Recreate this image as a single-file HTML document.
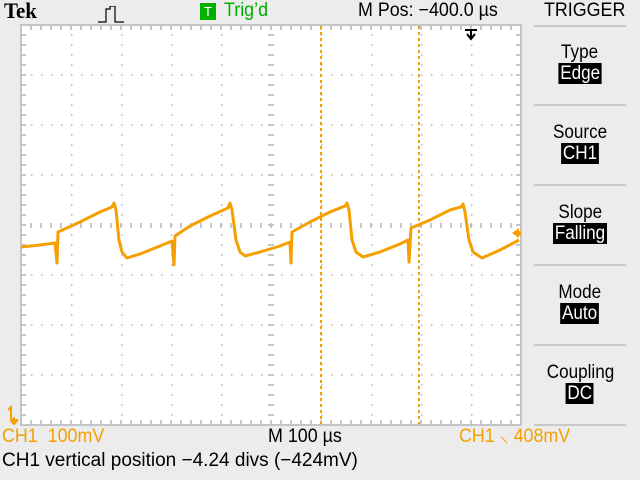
<!DOCTYPE html>
<html><head><meta charset="utf-8"><style>
html,body{margin:0;padding:0;background:#ececec;}
body{width:640px;height:480px;overflow:hidden;position:relative;font-family:"Liberation Sans",sans-serif;}
.t{position:absolute;font-size:19px;white-space:nowrap;transform-origin:0 0;transform:scaleX(0.94);line-height:20px;}
.inv{background:#000;color:#fff;padding:0 2px;}
.mi{position:absolute;left:534px;width:92px;text-align:center;font-size:19px;line-height:21px;}
.mi span{display:inline-block;transform:scaleX(0.9);}
.sep{position:absolute;left:534px;width:92px;height:2px;background:#c8c8c8;}
</style></head><body>
<svg id="scope" width="640" height="480" style="position:absolute;left:0;top:0">
  <rect x="21" y="25" width="500" height="400" fill="#fff" stroke="#c4c4c4" stroke-width="2"/>
  <g id="grid"></g>
  <g id="wave"></g>
</svg>
<div class="t" style="left:4px;top:1px;font-family:'Liberation Serif',serif;font-weight:bold;font-size:22px;transform:scaleX(0.95)">Tek</div>
<svg style="position:absolute;left:98px;top:6px" width="36" height="18"><path d="M0 16H8V3H12V0H17V16H26" fill="none" stroke="#000" stroke-width="1.2"/></svg>
<div style="position:absolute;left:200px;top:3px;width:16px;height:17px;background:#00b000;color:#fff;font-size:13px;text-align:center;line-height:17px;">T</div>
<div class="t" style="left:224px;top:1px;color:#00b000">Trig’d</div>
<div class="t" style="left:358px;top:1px">M Pos: −400.0 µs</div>
<div class="t" style="left:544px;top:1px">TRIGGER</div>
<div class="sep" style="top:25px"></div>
<div class="mi" style="top:42px"><span>Type</span><br><span class="inv">Edge</span></div>
<div class="sep" style="top:104px"></div>
<div class="mi" style="top:122px"><span>Source</span><br><span class="inv">CH1</span></div>
<div class="sep" style="top:184px"></div>
<div class="mi" style="top:202px"><span>Slope</span><br><span class="inv">Falling</span></div>
<div class="sep" style="top:264px"></div>
<div class="mi" style="top:282px"><span>Mode</span><br><span class="inv">Auto</span></div>
<div class="sep" style="top:344px"></div>
<div class="mi" style="top:362px"><span>Coupling</span><br><span class="inv">DC</span></div>
<div class="sep" style="top:424px"></div>
<div class="t" style="left:2px;top:427px;color:#f5a000">CH1&nbsp; 100mV</div>
<div class="t" style="left:268px;top:427px">M 100 µs</div>
<div class="t" style="left:459px;top:427px;color:#f5a000">CH1 ⸜ 408mV</div>
<div class="t" style="left:2px;top:451px;transform:scaleX(1.0)">CH1 vertical position −4.24 divs (−424mV)</div>
<script>
const timesUs=[0,38,68,72,74,118,158,182,186,190,196,202,212,238,278,302,306,308,338,378,414,418,422,430,438,448,478,518,538,540,542,578,618,648,652,656,662,670,684,718,758,774,776,780,818,858,880,884,888,896,904,922,958,996];
const voltsMv=[380,384,388,348,410,430,450,460,468,454,394,370,358,366,382,392,344,402,422,442,458,468,454,394,370,362,370,382,390,348,410,430,450,462,468,454,394,370,360,370,386,394,350,418,434,454,460,466,450,394,370,358,374,394];
const cursorsUs=[600,796];
const trigLevelMv=408;
const trigPosUs=900;
const NS="http://www.w3.org/2000/svg";
const xOf=t=>21+t/2;
const yOf=v=>437-v/2;
const grid=document.getElementById('grid'),wave=document.getElementById('wave');
function mk(p,tag,a){const e=document.createElementNS(NS,tag);for(const k in a)e.setAttribute(k,a[k]);p.appendChild(e);return e;}
let d='';
for(let i=1;i<10;i++){const x=21+i*50;if(i===5)continue;for(let y=35;y<425;y+=10)d+=`M${x} ${y}h1.5`;}
for(let j=1;j<8;j++){const y=25+j*50;if(j===4)continue;for(let x=31;x<521;x+=10)d+=`M${x} ${y}h1.5`;}
for(let x=31;x<521;x+=10){d+=`M${x} 26v4M${x} 420v4M${x} 223v5`;}
for(let y=35;y<425;y+=10){d+=`M22 ${y}h4M516 ${y}h4M268 ${y}h6`;}
const g=mk(grid,'path',{d:d,stroke:'#b4b4b4','stroke-width':1.5,fill:'none'});


cursorsUs.forEach(c=>{const l=mk(grid,'line',{x1:xOf(c),x2:xOf(c),y1:26,y2:424,stroke:'#f5a000','stroke-width':2,'stroke-dasharray':'3 3'});

});
let pd='';timesUs.forEach((t,i)=>{pd+=(i?'L':'M')+xOf(t).toFixed(1)+' '+yOf(voltsMv[i]).toFixed(1);});
const w=mk(wave,'path',{d:pd,stroke:'#f5a000','stroke-width':3,fill:'none','stroke-linejoin':'round'});


const ty=yOf(trigLevelMv);
const ta=mk(wave,'path',{d:`M512 ${ty}l7 -5v3h2v4h-2v3z`,fill:'#f5a000'});


const tx=xOf(trigPosUs);
const tp=mk(wave,'path',{d:`M${tx-6} 30h12M${tx} 30v9M${tx-4} 34l4 5l4 -5`,stroke:'#000','stroke-width':2,fill:'none'});


const gm=mk(wave,'path',{d:'M8 410l3 -3v14M14 417v7M10 420h8M11 421l3 3l3 -3',stroke:'#f5a000','stroke-width':2,fill:'none'});


</script>
</body></html>
